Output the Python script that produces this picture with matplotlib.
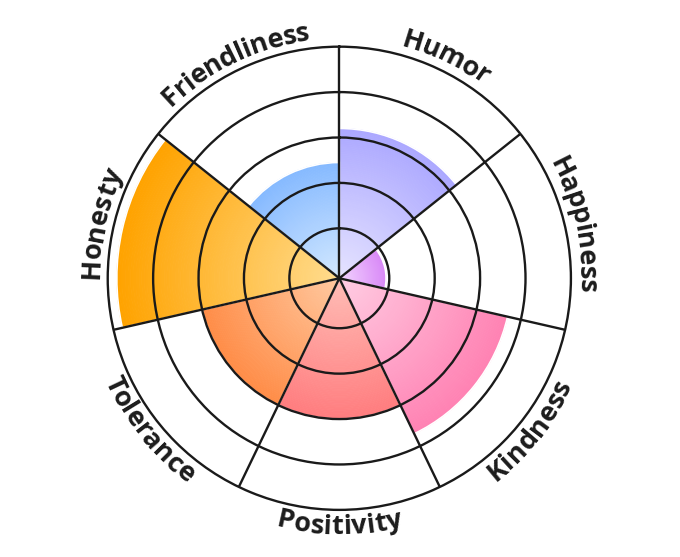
import numpy as np
import matplotlib
matplotlib.use("Agg")
import matplotlib.pyplot as plt
from matplotlib.colors import to_rgb
from matplotlib.font_manager import FontProperties

# data (clockwise from top)
categories = ["Humor", "Happiness", "Kindness", "Positivity", "Tolerance", "Honesty", "Friendliness"]
values = [3.2, 0.93, 3.7, 3.0, 3.0, 4.8, 2.45]
inner_colors = ["#e6e4ff", "#f3d6ff", "#ffcde3", "#ffbdb6", "#ffc9a0", "#ffdc8e", "#d4e9ff"]
outer_colors = ["#aca8ff", "#d98af7", "#ff82b3", "#ff7d7f", "#ff8d48", "#ffa300", "#86baff"]
rings = [1, 2, 3, 4]

RMIN, RMAX = -0.1, 5.0
R_PX = 231.6  # outer radius in pixels

fig = plt.figure(figsize=(6.8, 5.57), dpi=100)
ax = fig.add_axes([0.1584, 0.0846, 0.6812, 0.8316], projection="polar")
ax.set_theta_zero_location("N")
ax.set_theta_direction(-1)
ax.set_ylim(RMIN, RMAX)

n = len(categories)
width = 2 * np.pi / n
centers = np.arange(n) * width + width / 2

# radial gradient: stack of thin bars from center to value
steps = 80
for th, v, c0, c1 in zip(centers, values, inner_colors, outer_colors):
    c0, c1 = np.array(to_rgb(c0)), np.array(to_rgb(c1))
    edges = np.linspace(RMIN, v, steps + 1)
    for k in range(steps):
        f = k / (steps - 1)
        col = c0 + (c1 - c0) * f
        ax.bar(th, edges[k + 1] - edges[k], width=width, bottom=edges[k],
               color=col, edgecolor=col, linewidth=0.6,
               align="center", zorder=1)
    ax.bar(th, v - RMIN, width=width, bottom=RMIN, facecolor="none",
           edgecolor="white", linewidth=1.2, zorder=1.5)

# grid
ax.set_xticks(np.arange(n) * width)
ax.set_xticklabels([])
ax.set_yticks(rings)
ax.set_yticklabels([])
ax.grid(True, color="#1a1a1a", linewidth=1.7)
ax.set_axisbelow(False)
ax.spines["polar"].set_color("#1a1a1a")
ax.spines["polar"].set_linewidth(1.7)

# curved labels
fp = FontProperties(family=["Open Sans", "DejaVu Sans"], weight="bold", size=19.5)
renderer = fig.canvas.get_renderer()


def text_w(s):
    if not s:
        return 0.0
    w, _, _ = renderer.get_text_width_height_descent(s, fp, ismath=False)
    return w


def to_r(px):
    return px / R_PX * (RMAX - RMIN) + RMIN


for th, label in zip(centers, categories):
    deg = np.degrees(th)
    top = deg < 90 or deg > 270
    total = text_w(label)
    r_base = 240 if top else 256
    r_mid = 250
    for i, ch in enumerate(label):
        off = (text_w(label[:i]) + text_w(label[:i + 1])) / 2 - total / 2
        dphi = off / r_mid
        phi = th + dphi if top else th - dphi
        pd = np.degrees(phi)
        rot = -pd if top else 180 - pd
        ax.text(phi, to_r(r_base), ch, fontproperties=fp, color="#1c1c1c",
                rotation=rot, rotation_mode="anchor", ha="center", va="baseline",
                clip_on=False)

fig.savefig("out.png", dpi=100)
